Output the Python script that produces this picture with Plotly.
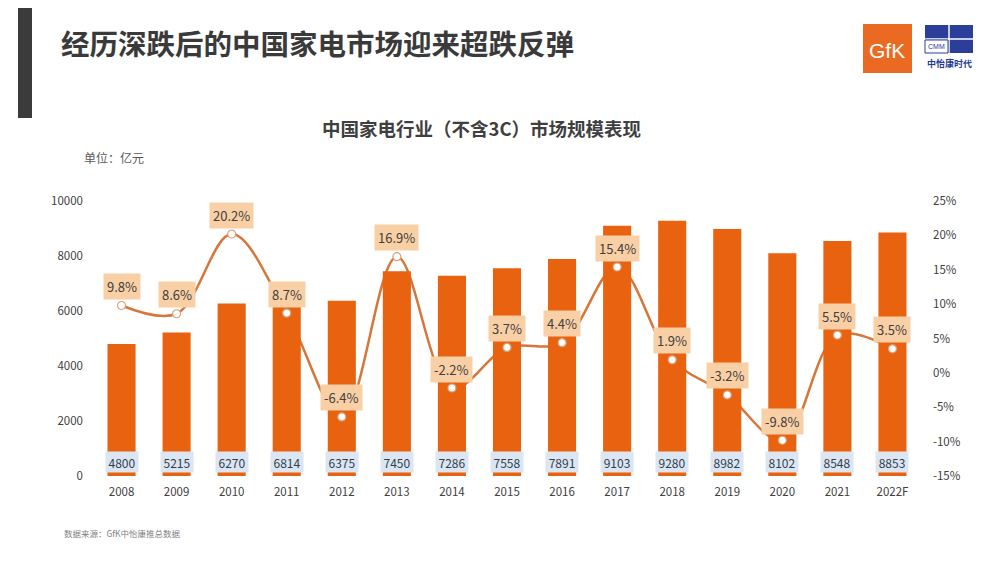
import plotly.graph_objects as go

years = ["2008", "2009", "2010", "2011", "2012", "2013", "2014", "2015",
         "2016", "2017", "2018", "2019", "2020", "2021", "2022F"]
market_size = [4800, 5215, 6270, 6814, 6375, 7450, 7286, 7558,
               7891, 9103, 9280, 8982, 8102, 8548, 8853]
growth = [9.8, 8.6, 20.2, 8.7, -6.4, 16.9, -2.2, 3.7,
          4.4, 15.4, 1.9, -3.2, -9.8, 5.5, 3.5]

left_ticks = [0, 2000, 4000, 6000, 8000, 10000]
right_ticks = [-15, -10, -5, 0, 5, 10, 15, 20, 25]

BAR = "#E8620F"
LINE = "#D5763A"
PEACH = "#F9CFA5"
BLUE_BOX = "#DCE6F2"
TXT = "#404040"
FONT = "Noto Sans CJK SC"

W, H = 1000, 563
OFF = 8  # page body margin
L, R, T, B = 94 - OFF, 80 + OFF, 201 - OFF, 87 + OFF

xpos = list(range(len(years)))


def px(x):
    return (x - OFF - L) / (W - L - R)


def py(y):
    return (H - B - (y - OFF)) / (H - T - B)


fig = go.Figure()

# growth line (behind bars)
fig.add_trace(go.Scatter(
    x=xpos, y=growth, mode="lines", yaxis="y", xaxis="x",
    line=dict(color=LINE, width=2.5, shape="spline", smoothing=1.0),
    hoverinfo="skip", showlegend=False))

# bars
fig.add_trace(go.Bar(
    x=xpos, y=market_size, yaxis="y2", xaxis="x", width=0.51,
    marker=dict(color=BAR, line=dict(width=0)),
    showlegend=False))

# markers on top
fig.add_trace(go.Scatter(
    x=xpos, y=growth, mode="markers", yaxis="y3", xaxis="x",
    marker=dict(color="white", size=8, line=dict(color="#D9A27A", width=1.2)),
    showlegend=False))

annotations = []
for i, g in zip(xpos, growth):
    annotations.append(dict(
        x=i, y=g, xref="x", yref="y3", text=f"{g}%", showarrow=False,
        yshift=19, bgcolor=PEACH, borderpad=3,
        font=dict(family=FONT, size=13, color=TXT)))
for i, v in zip(xpos, market_size):
    annotations.append(dict(
        x=i, y=0, xref="x", yref="y2", text=str(v), showarrow=False,
        yanchor="bottom", yshift=3, width=30, height=18, bgcolor=BLUE_BOX,
        font=dict(family=FONT, size=12, color="#2F3E4E")))

# texts
annotations += [
    dict(x=px(59), y=py(42), xref="paper", yref="paper", xanchor="left", yanchor="middle",
         text="<b>经历深跌后的中国家电市场迎来超跌反弹</b>", showarrow=False,
         font=dict(family=FONT, size=28.5, color="#3A3A3A")),
    dict(x=px(481), y=py(128), xref="paper", yref="paper", xanchor="center", yanchor="middle",
         text="<b>中国家电行业（不含3C）市场规模表现</b>", showarrow=False,
         font=dict(family=FONT, size=18.5, color="#3F3F3F")),
    dict(x=px(82), y=py(157), xref="paper", yref="paper", xanchor="left", yanchor="middle",
         text="单位：亿元", showarrow=False,
         font=dict(family=FONT, size=12, color="#595959")),
    dict(x=px(62), y=py(533), xref="paper", yref="paper", xanchor="left", yanchor="middle",
         text="数据来源：GfK中怡康推总数据", showarrow=False,
         font=dict(family=FONT, size=8.5, color="#7F7F7F")),
    dict(x=px(887), y=py(50), xref="paper", yref="paper", xanchor="center", yanchor="middle",
         text="GfK", showarrow=False,
         font=dict(family="Liberation Sans Narrow, Liberation Sans", size=21, color="white")),
    dict(x=px(936), y=py(47), xref="paper", yref="paper", xanchor="center", yanchor="middle",
         text="CMM", showarrow=False,
         font=dict(family="Liberation Sans", size=7, color="#1F3A93")),
    dict(x=px(949), y=py(63), xref="paper", yref="paper", xanchor="center", yanchor="middle",
         text="<b>中怡康时代</b>", showarrow=False,
         font=dict(family=FONT, size=9, color="#1F3A93")),
]

shapes = [
    dict(type="rect", xref="paper", yref="paper", x0=px(18), x1=px(32), y0=py(-10), y1=py(118),
         fillcolor="#3B3B3B", line=dict(width=0), layer="below"),
    dict(type="rect", xref="paper", yref="paper", x0=px(863), x1=px(912), y0=py(24), y1=py(73),
         fillcolor="#EB6A22", line=dict(width=0)),
    dict(type="rect", xref="paper", yref="paper", x0=px(925), x1=px(973), y0=py(25), y1=py(53),
         fillcolor="#2B3F9A", line=dict(width=0)),
    dict(type="line", xref="paper", yref="paper", x0=px(925), x1=px(973), y0=py(39), y1=py(39),
         line=dict(color="white", width=1.5)),
    dict(type="line", xref="paper", yref="paper", x0=px(949), x1=px(949), y0=py(25), y1=py(53),
         line=dict(color="white", width=1.5)),
    dict(type="rect", xref="paper", yref="paper", x0=px(925), x1=px(948), y0=py(40), y1=py(53),
         fillcolor="white", line=dict(color="#2B3F9A", width=1)),
]

fig.update_layout(
    width=W, height=H, autosize=False,
    margin=dict(l=L, r=R, t=T, b=B, pad=0),
    paper_bgcolor="white", plot_bgcolor="white",
    font=dict(family=FONT, color=TXT),
    xaxis=dict(range=[-0.5, len(years) - 0.5], tickvals=xpos, ticktext=years,
               showgrid=False, zeroline=False, showline=False,
               ticks="", tickfont=dict(size=11.5, color=TXT), ticklabelstandoff=7,
               fixedrange=True),
    yaxis=dict(side="right", range=[-15, 25], tickvals=right_ticks,
               ticktext=[f"{v}%" for v in right_ticks], showgrid=False, zeroline=False,
               showline=False, tickfont=dict(size=11.5, color=TXT), ticklabelstandoff=12),
    yaxis2=dict(side="left", overlaying="y", anchor="x", range=[0, 10000], tickvals=left_ticks,
                ticktext=[str(v) for v in left_ticks],
                showgrid=False, zeroline=False, showline=False,
                tickfont=dict(size=11.5, color=TXT), ticklabelstandoff=10),
    yaxis3=dict(overlaying="y", anchor="x", range=[-15, 25], visible=False),
    annotations=annotations,
    shapes=shapes,
)

fig.write_html("out.html")
